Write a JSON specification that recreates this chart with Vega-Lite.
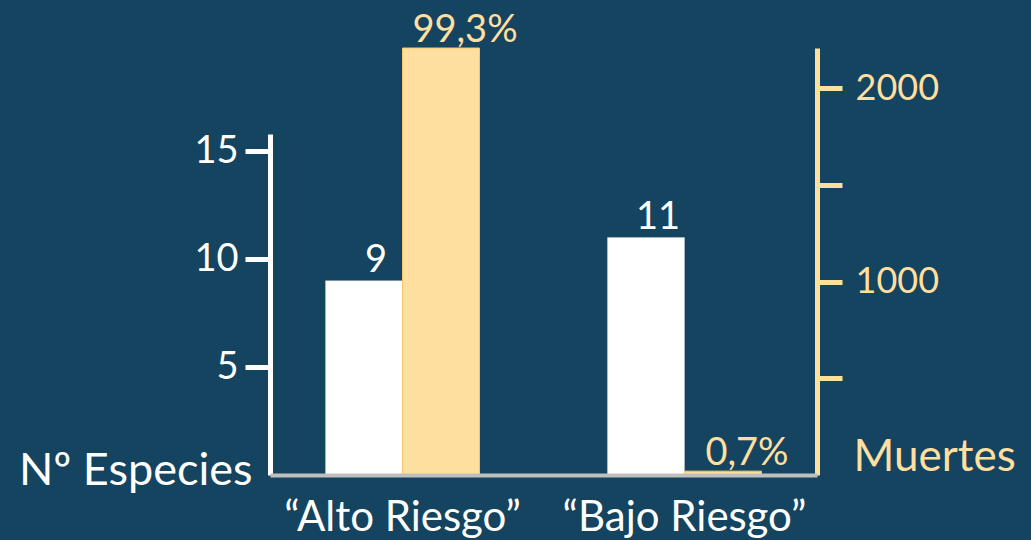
{
  "$schema": "https://vega.github.io/schema/vega-lite/v6.json",
  "autosize": {"type": "none"},
  "width": 547,
  "height": 427,
  "padding": {"left": 270, "top": 48, "right": 214, "bottom": 65},
  "background": "#154460",
  "config": {
    "view": {"stroke": null},
    "font": "Lato",
    "axis": {"grid": false}
  },
  "data": {
    "values": [
      {"cat": "“Alto Riesgo”", "serie": "Nº Especies", "valor": 9, "etiqueta": "9"},
      {"cat": "“Alto Riesgo”", "serie": "Muertes", "valor": 2209, "etiqueta": "99,3%"},
      {"cat": "“Bajo Riesgo”", "serie": "Nº Especies", "valor": 11, "etiqueta": "11"},
      {"cat": "“Bajo Riesgo”", "serie": "Muertes", "valor": 20, "etiqueta": "0,7%"}
    ]
  },
  "encoding": {
    "x": {
      "field": "cat",
      "type": "nominal",
      "sort": null,
      "title": null,
      "scale": {"paddingInner": 0.454, "paddingOuter": 0.197},
      "axis": {
        "labelAngle": 0,
        "labelColor": "#FFFFFF",
        "labelFontSize": 42,
        "labelLimit": 0,
        "labelBaseline": "alphabetic",
        "labelPadding": 55,
        "ticks": false,
        "domainColor": "#BFBFBF",
        "domainWidth": 4,
        "zindex": 1
      }
    },
    "xOffset": {
      "field": "serie",
      "type": "nominal",
      "scale": {"domain": ["Nº Especies", "Muertes"], "paddingInner": 0, "paddingOuter": 0}
    }
  },
  "layer": [
    {
      "transform": [{"filter": "datum.serie === 'Nº Especies'"}],
      "encoding": {
        "y": {
          "field": "valor",
          "type": "quantitative",
          "title": "Nº Especies",
          "scale": {"domain": [0, 15.8], "range": [427, 86], "nice": false, "zero": true},
          "axis": {
            "orient": "left",
            "values": [5, 10, 15],
            "domainColor": "#FFFFFF",
            "domainWidth": 5,
            "tickColor": "#FFFFFF",
            "tickWidth": 5,
            "tickSize": 25,
            "labelColor": "#FFFFFF",
            "labelFontSize": 38,
            "labelPadding": 7,
            "titleColor": "#FFFFFF",
            "titleFontSize": 45,
            "titleFontWeight": "normal",
            "titleAngle": 0,
            "titleAlign": "right",
            "titleBaseline": "alphabetic",
            "titleX": -18,
            "titleY": 436
          }
        }
      },
      "layer": [
        {"mark": {"type": "bar", "color": "#FFFFFF", "stroke": "#C8D2DA", "strokeWidth": 0.5}},
        {
          "mark": {"type": "text", "color": "#FFFFFF", "fontSize": 38, "baseline": "alphabetic", "dy": -9, "dx": 12},
          "encoding": {"text": {"field": "etiqueta"}}
        }
      ]
    },
    {
      "transform": [{"filter": "datum.serie === 'Muertes'"}],
      "encoding": {
        "y": {
          "field": "valor",
          "type": "quantitative",
          "title": "Muertes",
          "scale": {"domain": [0, 2209], "nice": false, "zero": true},
          "axis": {
            "orient": "right",
            "values": [500, 1000, 1500, 2000],
            "format": "d",
            "labelExpr": "datum.value % 1000 === 0 ? datum.label : ''",
            "domainColor": "#FFDF9F",
            "domainWidth": 5,
            "tickColor": "#FFDF9F",
            "tickWidth": 5,
            "tickSize": 25,
            "labelColor": "#FFDF9F",
            "labelFontSize": 36,
            "labelPadding": 13,
            "titleColor": "#FFDF9F",
            "titleFontSize": 44,
            "titleFontWeight": "normal",
            "titleAngle": 0,
            "titleAlign": "left",
            "titleBaseline": "alphabetic",
            "titleX": 36,
            "titleY": 422
          }
        }
      },
      "layer": [
        {"mark": {"type": "bar", "color": "#FFDF9F", "stroke": "#F5C767", "strokeWidth": 1}},
        {
          "mark": {"type": "text", "color": "#FFDF9F", "fontSize": 38, "baseline": "alphabetic", "dy": -6, "dx": 24},
          "encoding": {"text": {"field": "etiqueta"}}
        }
      ]
    }
  ],
  "resolve": {"scale": {"y": "independent"}, "axis": {"y": "independent"}}
}
